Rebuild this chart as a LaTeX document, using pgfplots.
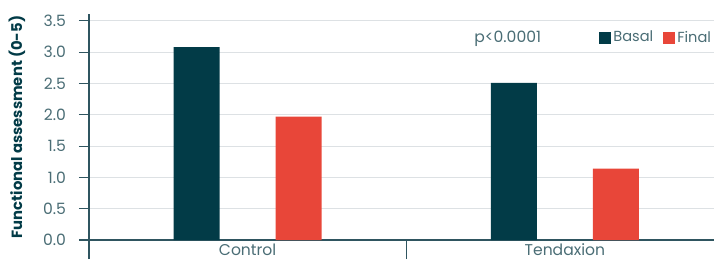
\documentclass[border=0pt]{standalone}
\usepackage{fontspec}
\setmainfont{Poppins}
\usepackage{pgfplots}
\pgfplotsset{compat=1.18}
\definecolor{teal}{HTML}{023B47}
\definecolor{redb}{HTML}{E84639}
\definecolor{tickc}{HTML}{4A6D75}
\definecolor{axc}{HTML}{2F5560}
\definecolor{gridc}{HTML}{DDE1E4}
\begin{document}
\begin{tikzpicture}
\begin{axis}[
  scale only axis,
  width=312.5pt, height=113pt,
  xmin=-0.5, xmax=1.47,
  ymin=0, ymax=3.61,
  axis lines=left,
  axis line style={-, axc, line width=0.6pt},
  xtick={0,1}, xticklabels={Control,Tendaxion},
  major x tick style={draw=none},
  extra x ticks={-0.5,0.5},
  extra x tick labels={},
  extra x tick style={major x tick style={draw=axc, line width=0.6pt}, major tick length=9.5pt, tick align=outside, grid=none},
  ytick={0,0.5,...,3.5},
  ymajorgrids,
  grid style={gridc, line width=0.6pt},
  y tick style={axc, line width=0.6pt},
  major tick length=5pt,
  tick align=outside,
  yticklabel style={/pgf/number format/fixed, /pgf/number format/fixed zerofill, /pgf/number format/precision=1, text=tickc, xshift=-3pt},
  /pgf/number format/assume math mode=true,
  tick label style={font=\fontsize{7.8}{9}\selectfont, text=tickc},
  xticklabel style={yshift=6.5pt, text depth=0pt},
  ylabel={Functional assessment (0-5)},
  ylabel style={font=\fontsize{7.4}{9}\selectfont\bfseries, text=teal},
  ylabel shift=2pt,
  legend style={at={(rel axis cs:0.816,0.894)}, anchor=west, draw=none, fill=none, inner sep=0pt, font=\fontsize{7.3}{9}\selectfont, text=tickc, legend columns=-1, /tikz/every even column/.append style={column sep=4pt}, nodes={inner sep=1pt}},
  legend image code/.code={\fill[#1] (0pt,-3pt) rectangle (6pt,3pt);},
]
\addplot[ybar, bar width=23pt, bar shift=-25.5pt, fill=teal, draw=none] coordinates {(0,3.08) (1,2.51)};
\addplot[ybar, bar width=23pt, bar shift=25.5pt, fill=redb, draw=none] coordinates {(0,1.97) (1,1.14)};
\legend{Basal,Final}
\node[font=\fontsize{7.8}{9}\selectfont, text=tickc] at (axis cs:0.82,3.22) {p<0.0001};
\coordinate (ll) at (rel axis cs:0,0);
\coordinate (ur) at (rel axis cs:1,1);
\end{axis}
\pgfresetboundingbox
\useasboundingbox ([xshift=-44.5pt,yshift=-9.5pt]ll) rectangle ([yshift=7pt]ur);
\end{tikzpicture}
\end{document}
